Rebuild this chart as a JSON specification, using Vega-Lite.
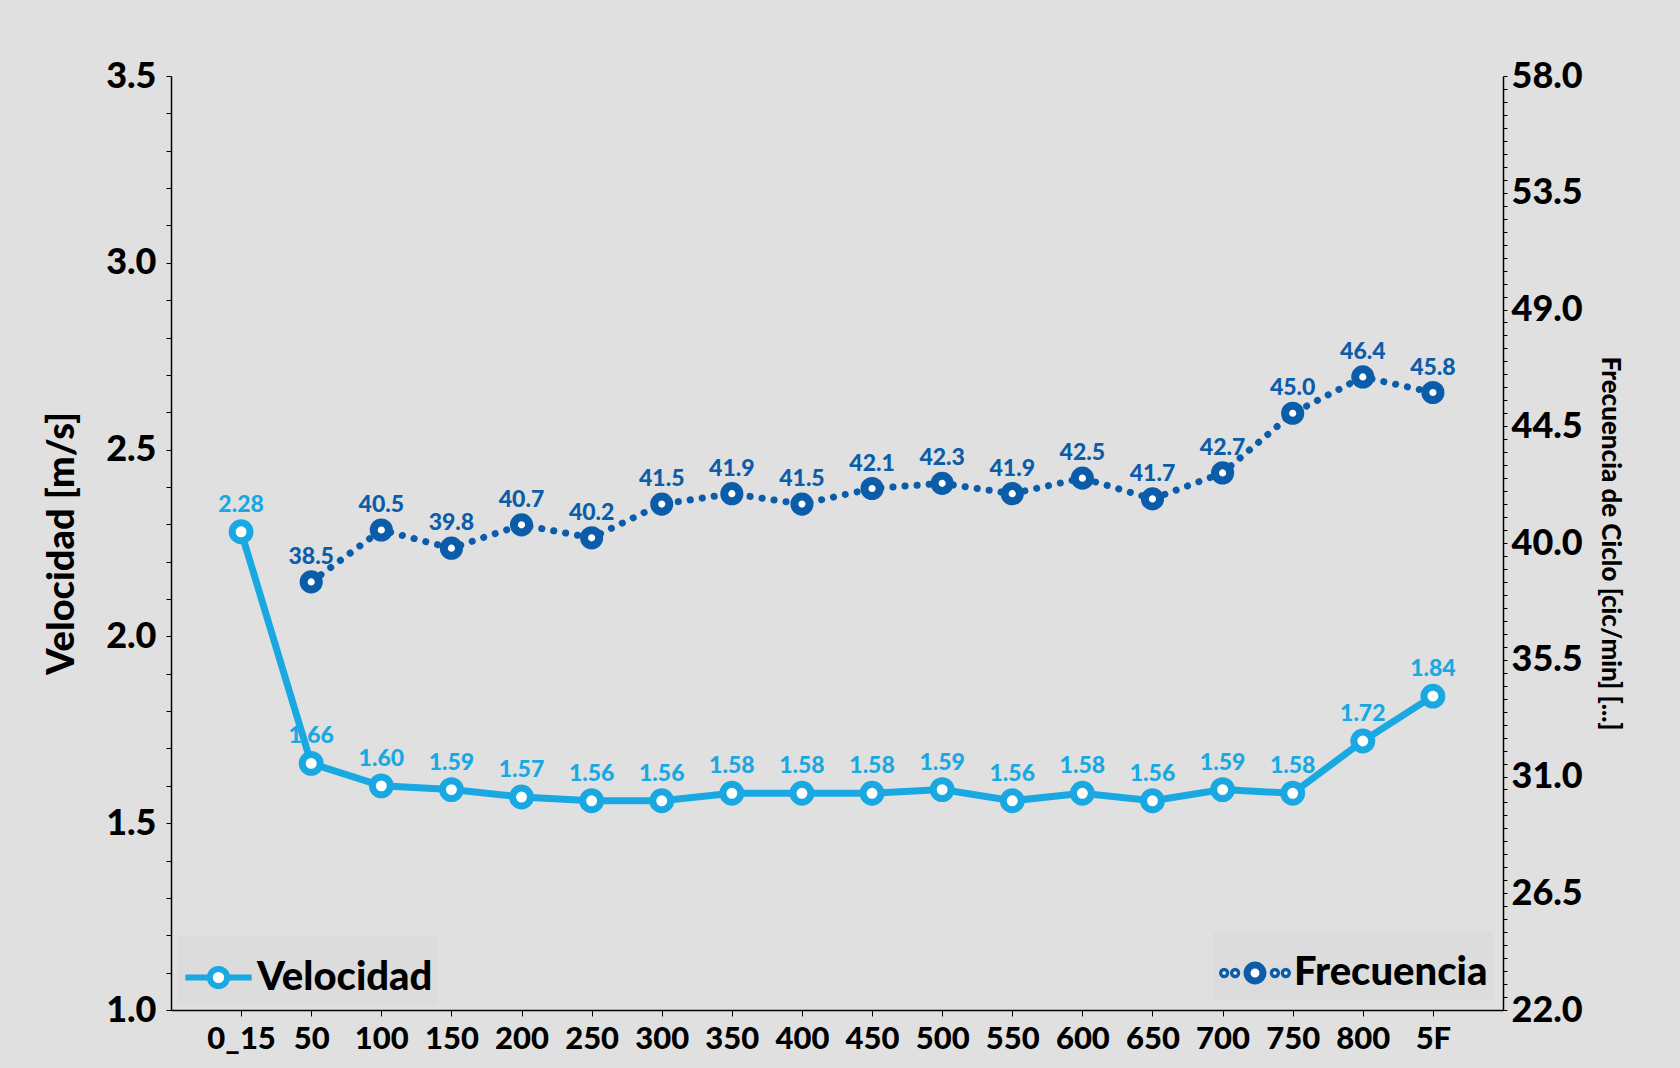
{
  "$schema": "https://vega.github.io/schema/vega-lite/v6.json",
  "width": 1332,
  "height": 934,
  "autosize": {"type": "none"},
  "padding": {"left": 171, "top": 76, "right": 177, "bottom": 58},
  "background": "#e0e0e0",
  "config": {
    "view": {"stroke": null},
    "font": "Lato",
    "axis": {"labelFont": "Lato", "titleFont": "Lato", "labelColor": "#000", "titleColor": "#000", "domainColor": "#000", "tickColor": "#000", "grid": false}
  },
  "data": {"values": [
    {"d": "0_15", "velocidad": 2.28, "frecuencia": null},
    {"d": "50", "velocidad": 1.66, "frecuencia": 38.5},
    {"d": "100", "velocidad": 1.60, "frecuencia": 40.5},
    {"d": "150", "velocidad": 1.59, "frecuencia": 39.8},
    {"d": "200", "velocidad": 1.57, "frecuencia": 40.7},
    {"d": "250", "velocidad": 1.56, "frecuencia": 40.2},
    {"d": "300", "velocidad": 1.56, "frecuencia": 41.5},
    {"d": "350", "velocidad": 1.58, "frecuencia": 41.9},
    {"d": "400", "velocidad": 1.58, "frecuencia": 41.5},
    {"d": "450", "velocidad": 1.58, "frecuencia": 42.1},
    {"d": "500", "velocidad": 1.59, "frecuencia": 42.3},
    {"d": "550", "velocidad": 1.56, "frecuencia": 41.9},
    {"d": "600", "velocidad": 1.58, "frecuencia": 42.5},
    {"d": "650", "velocidad": 1.56, "frecuencia": 41.7},
    {"d": "700", "velocidad": 1.59, "frecuencia": 42.7},
    {"d": "750", "velocidad": 1.58, "frecuencia": 45.0},
    {"d": "800", "velocidad": 1.72, "frecuencia": 46.4},
    {"d": "5F", "velocidad": 1.84, "frecuencia": 45.8}
  ]},
  "layer": [
    {
      "encoding": {
        "x": {"field": "d", "type": "ordinal", "sort": null, "scale": {"type": "point", "padding": 1},
          "axis": {"title": null, "labelAngle": 0, "labelFontSize": 31, "labelFontWeight": 900, "tickSize": 6, "labelPadding": 8, "domainWidth": 1.5}},
        "y": {"field": "velocidad", "type": "quantitative", "scale": {"domain": [1.0, 3.5], "nice": false, "zero": false},
          "axis": {"orient": "left", "title": "Velocidad [m/s]", "titleFontSize": 38, "titleFontWeight": 900, "titlePadding": 24, "titleLimit": 1000,
            "values": [1.0,1.1,1.2,1.3,1.4,1.5,1.6,1.7,1.8,1.9,2.0,2.1,2.2,2.3,2.4,2.5,2.6,2.7,2.8,2.9,3.0,3.1,3.2,3.3,3.4,3.5],
            "labelExpr": "abs(datum.value*2 - round(datum.value*2)) < 0.001 ? format(datum.value, '.1f') : ''",
            "labelFontSize": 36, "labelFontWeight": 900, "labelPadding": 10, "tickSize": 5, "domainWidth": 1.5}}
      },
      "layer": [
        {"mark": {"type": "line", "strokeWidth": 7},
          "encoding": {"color": {"datum": "Velocidad", "type": "nominal", "scale": {"range": ["#1aa8e3"]},
            "legend": {"title": null, "orient": "bottom-left", "offset": 6, "padding": 5, "fillColor": "#dcdcdc",
              "symbolType": "M-1,0L-0.26,0M0.26,0L1,0M0.26,0A0.26,0.26,0,1,1,-0.26,0A0.26,0.26,0,1,1,0.26,0",
              "symbolSize": 4400, "symbolStrokeWidth": 6, "symbolFillColor": "#ffffff", "symbolStrokeColor": "#1aa8e3",
              "labelFontSize": 40, "labelFontWeight": 900, "labelColor": "#000", "labelFont": "Lato", "labelOffset": 2, "labelLimit": 400}}}},
        {"mark": {"type": "point", "filled": true, "fill": "#ffffff", "stroke": "#1aa8e3", "strokeWidth": 7, "size": 320, "opacity": 1}},
        {"mark": {"type": "text", "color": "#1aa8e3", "fontSize": 23, "fontWeight": 900, "dy": -27, "font": "Lato"},
          "encoding": {"text": {"field": "velocidad", "type": "quantitative", "format": ".2f"}}}
      ]
    },
    {
      "transform": [{"filter": "datum.frecuencia != null"}],
      "encoding": {
        "x": {"field": "d", "type": "ordinal", "sort": null, "scale": {"type": "point", "padding": 1}},
        "y": {"field": "frecuencia", "type": "quantitative", "scale": {"domain": [22, 58], "nice": false, "zero": false},
          "axis": {"orient": "right", "title": "Frecuencia de Ciclo [cic/min] [...]", "titleFontSize": 26, "titleFontWeight": 900, "titleAngle": 90, "titlePadding": 14, "titleLimit": 1000,
            "values": [22,22.5,23,23.5,24,24.5,25,25.5,26,26.5,27,27.5,28,28.5,29,29.5,30,30.5,31,31.5,32,32.5,33,33.5,34,34.5,35,35.5,36,36.5,37,37.5,38,38.5,39,39.5,40,40.5,41,41.5,42,42.5,43,43.5,44,44.5,45,45.5,46,46.5,47,47.5,48,48.5,49,49.5,50,50.5,51,51.5,52,52.5,53,53.5,54,54.5,55,55.5,56,56.5,57,57.5,58],
            "labelExpr": "abs((datum.value-22)/4.5 - round((datum.value-22)/4.5)) < 0.001 ? format(datum.value, '.1f') : ''",
            "labelFontSize": 36, "labelFontWeight": 900, "labelPadding": 4, "tickSize": 4, "domainWidth": 1.5}}
      },
      "layer": [
        {"mark": {"type": "line", "strokeWidth": 7, "strokeDash": [0.1, 12], "strokeCap": "round"},
          "encoding": {"color": {"datum": "Frecuencia", "type": "nominal", "scale": {"range": ["#0b5daa"]},
            "legend": {"title": null, "orient": "bottom-right", "offset": 10, "padding": 5, "fillColor": "#dcdcdc",
              "symbolType": "M-0.98,0A0.05,0.05,0,1,1,-0.88,0A0.05,0.05,0,1,1,-0.98,0M-0.65,0A0.05,0.05,0,1,1,-0.55,0A0.05,0.05,0,1,1,-0.65,0M0.55,0A0.05,0.05,0,1,1,0.65,0A0.05,0.05,0,1,1,0.55,0M0.88,0A0.05,0.05,0,1,1,0.98,0A0.05,0.05,0,1,1,0.88,0M0.24,0A0.24,0.24,0,1,1,-0.24,0A0.24,0.24,0,1,1,0.24,0",
              "symbolSize": 4400, "symbolStrokeWidth": 7, "symbolFillColor": "#ffffff", "symbolStrokeColor": "#0b5daa",
              "labelFontSize": 40, "labelFontWeight": 900, "labelColor": "#000", "labelFont": "Lato", "labelOffset": 2, "labelLimit": 400}}}},
        {"mark": {"type": "point", "filled": true, "fill": "#ffffff", "stroke": "#0b5daa", "strokeWidth": 8, "size": 230, "opacity": 1}},
        {"mark": {"type": "text", "color": "#0b5daa", "fontSize": 23, "fontWeight": 900, "dy": -25, "font": "Lato"},
          "encoding": {"text": {"field": "frecuencia", "type": "quantitative", "format": ".1f"}}}
      ]
    }
  ],
  "resolve": {"scale": {"y": "independent", "color": "independent"}}
}
